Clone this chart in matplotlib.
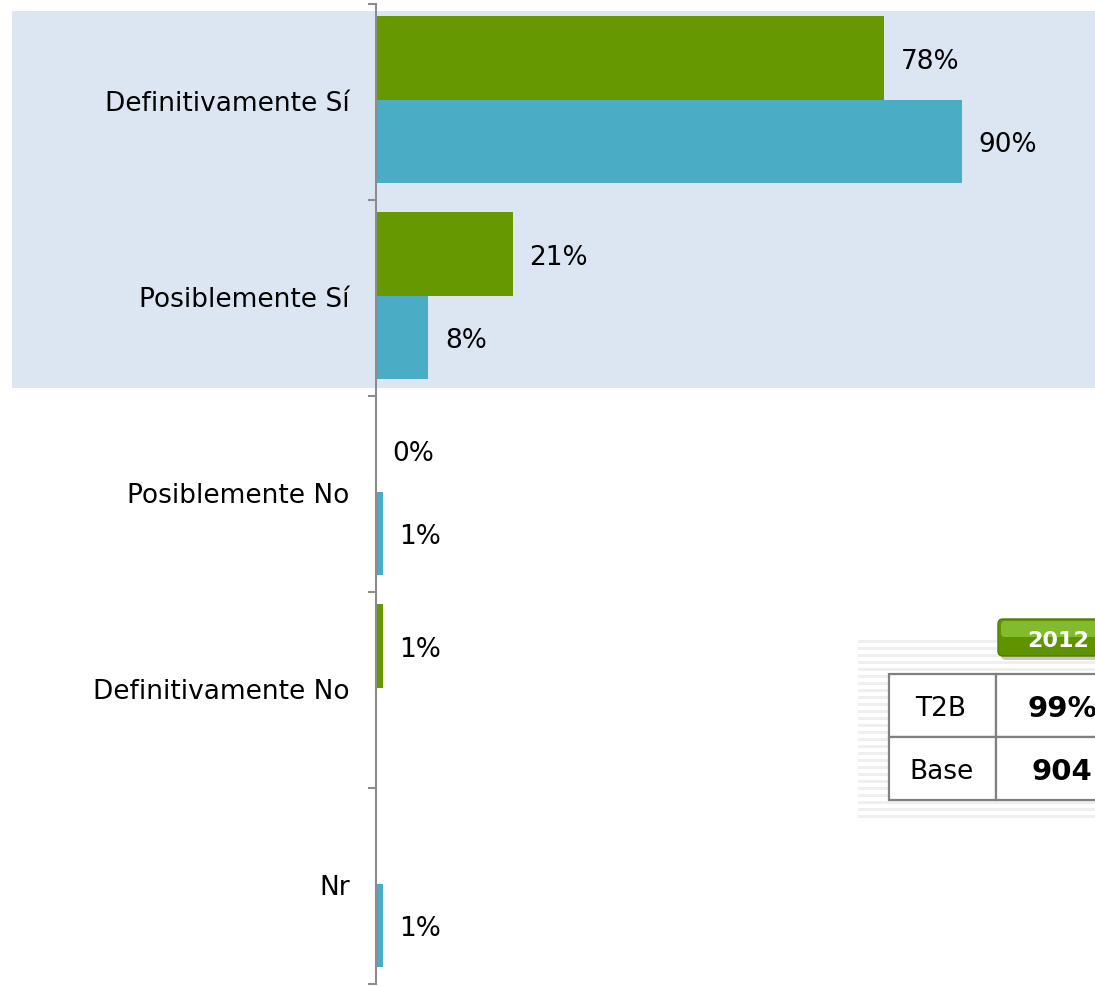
import matplotlib.pyplot as plt
from matplotlib.patches import Rectangle, FancyBboxPatch
import matplotlib.transforms as mtransforms

# categories, top to bottom
categories = ['Definitivamente Sí', 'Posiblemente Sí', 'Posiblemente No',
              'Definitivamente No', 'Nr']
# green series (2012) and blue series, None = no bar / no label
values_green = [78, 21, 0, 1, None]
values_blue = [90, 8, 1, None, 1]
green_name = '2012'

# summary table
table_rows = ['T2B', 'Base']
table_vals = ['99%', '904']

GREEN = '#669900'
BLUE = '#4bacc6'
SHADE = '#dce6f2'
GRAY = '#8c8c8c'
FS = 19

plt.rcParams['font.family'] = ['DejaVu Sans']

W, H = 1095, 987
fig = plt.figure(figsize=(W / 100, H / 100), dpi=100)
fig.patch.set_facecolor('white')

# main axes: left spine at x=376 px, categories from y=4 to y=984 px
ax = fig.add_axes([376 / W, 2.5 / H, 1 - 376 / W, 980 / H])
ax.set_xlim(0, 110.4)
ax.set_ylim(len(categories), 0)
ax.patch.set_alpha(0)

bar_h = 0.425
for i, (g, b) in enumerate(zip(values_green, values_blue)):
    if g is not None:
        ax.barh(i + 0.278, g, height=bar_h, color=GREEN, zorder=3)
        ax.annotate(f'{g}%', (g, i + 0.278), xytext=(12, -2),
                    textcoords='offset points', va='center', ha='left',
                    fontsize=FS, color='black')
    if b is not None:
        ax.barh(i + 0.704, b, height=bar_h, color=BLUE, zorder=3)
        ax.annotate(f'{b}%', (b, i + 0.704), xytext=(12, -2),
                    textcoords='offset points', va='center', ha='left',
                    fontsize=FS, color='black')

# shaded band behind the two positive answers
trans = mtransforms.blended_transform_factory(fig.transFigure, ax.transData)
fig.patches.append(Rectangle((12 / W, 0.04), 1 - 12 / W, 1.92,
                             transform=trans, facecolor=SHADE,
                             edgecolor='none', zorder=-5))

# axis styling
for s in ['top', 'right', 'bottom']:
    ax.spines[s].set_visible(False)
ax.spines['left'].set_color(GRAY)
ax.spines['left'].set_linewidth(1.5)
ax.spines['left'].set_zorder(4)
ax.set_xticks([])
ax.set_yticks(range(len(categories) + 1))
ax.set_yticklabels([])
ax.tick_params(axis='y', which='major', length=6, width=1.5, color=GRAY)
ax.set_yticks([i + 0.49 for i in range(len(categories))], minor=True)
ax.set_yticklabels(categories, minor=True, fontsize=FS)
ax.tick_params(axis='y', which='minor', length=0, pad=19)

# overlay in pixel coordinates for the summary table
ov = fig.add_axes([0, 0, 1, 1])
ov.set_xlim(0, W)
ov.set_ylim(H, 0)
ov.axis('off')
ov.patch.set_alpha(0)

# striped backdrop
y = 641
while y < 820:
    ov.add_patch(Rectangle((858, y), W - 858, 3, facecolor='#efefef',
                           edgecolor='none', zorder=1))
    y += 7

# table cells
row_top = [675, 738]
for r, (lab, val) in enumerate(zip(table_rows, table_vals)):
    y0 = row_top[r]
    ov.add_patch(Rectangle((889, y0), 107, 63, facecolor='white',
                           edgecolor='#808080', lw=1.6, zorder=2))
    ov.add_patch(Rectangle((996, y0), 120, 63, facecolor='white',
                           edgecolor='#808080', lw=1.6, zorder=2, clip_on=False))
    ov.text(941, y0 + 34, lab, ha='center', va='center', fontsize=FS, zorder=3)
    ov.text(1062, y0 + 34, val, ha='center', va='center', fontsize=21,
            fontweight='bold', zorder=3)

# year button
ov.add_patch(FancyBboxPatch((1001, 624), 120, 37,
                            boxstyle='round,pad=0,rounding_size=5',
                            facecolor='#c8c8c8', edgecolor='none', zorder=2))
ov.add_patch(FancyBboxPatch((998, 620), 120, 37,
                            boxstyle='round,pad=0,rounding_size=5',
                            facecolor='#5f9400', edgecolor='#4f7a00', lw=1,
                            zorder=3))
ov.add_patch(FancyBboxPatch((1001, 622), 115, 16,
                            boxstyle='round,pad=0,rounding_size=4',
                            facecolor='#8cc63a', edgecolor='none', alpha=0.8,
                            zorder=4))
ov.text(1058, 641, green_name, ha='center', va='center', fontsize=16,
        fontweight='bold', color='white', zorder=5)

fig.savefig('out.png', dpi=100)
